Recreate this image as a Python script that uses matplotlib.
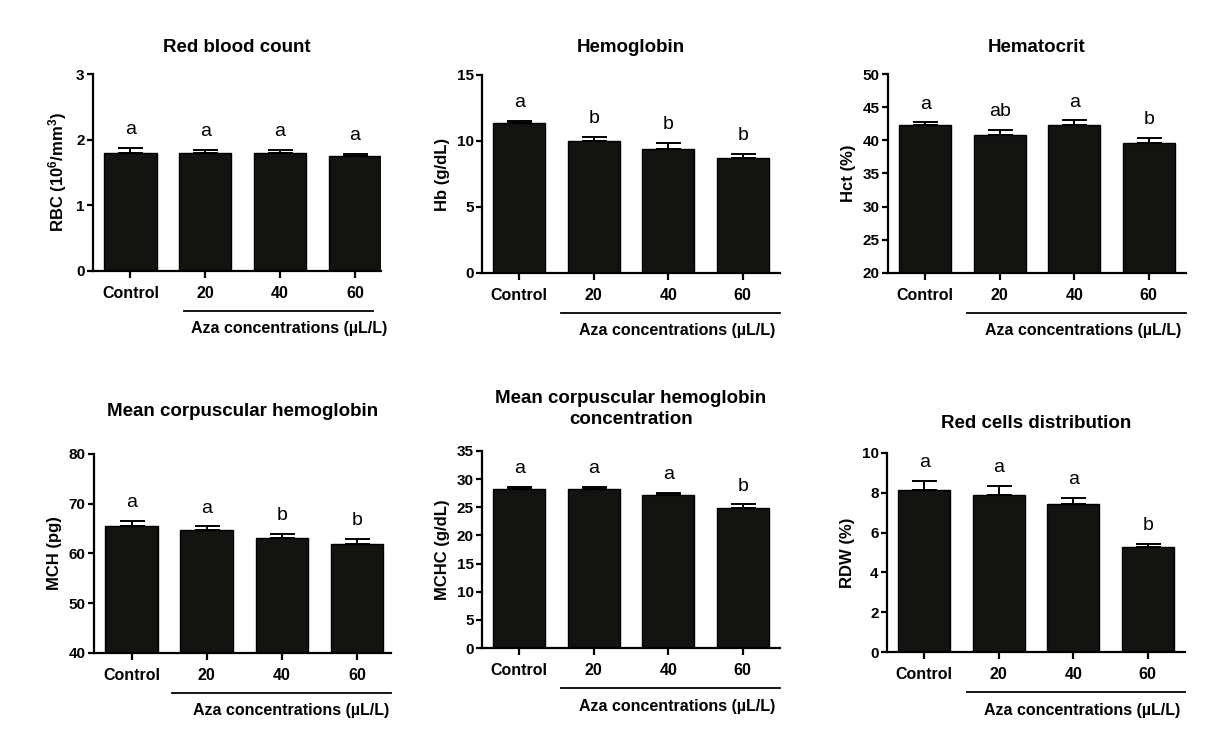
"""Hematological parameters of fish exposed to Aza - six bar panels."""

import matplotlib
matplotlib.use("Agg")
import matplotlib.pyplot as plt
import matplotlib.transforms as mtransforms

plt.rcParams["font.family"] = ["Liberation Sans", "DejaVu Sans"]
plt.rcParams["mathtext.fontset"] = "custom"
plt.rcParams["mathtext.rm"] = "Liberation Sans"
plt.rcParams["mathtext.bf"] = "Liberation Sans:bold"
plt.rcParams["mathtext.default"] = "bf"

GROUPS = ["Control", "20", "40", "60"]

rbc_mean = [1.79, 1.80, 1.80, 1.75]
rbc_sem = [0.09, 0.04, 0.05, 0.03]
rbc_letters = ["a", "a", "a", "a"]

hb_mean = [11.34, 10.02, 9.39, 8.73]
hb_sem = [0.16, 0.31, 0.46, 0.31]
hb_letters = ["a", "b", "b", "b"]

hct_mean = [42.24, 40.83, 42.34, 39.67]
hct_sem = [0.46, 0.75, 0.66, 0.70]
hct_letters = ["a", "ab", "a", "b"]

mch_mean = [65.57, 64.70, 63.15, 61.88]
mch_sem = [0.93, 0.74, 0.85, 1.07]
mch_letters = ["a", "a", "b", "b"]

mchc_mean = [28.16, 28.16, 27.20, 24.90]
mchc_sem = [0.47, 0.44, 0.40, 0.60]
mchc_letters = ["a", "a", "a", "b"]

rdw_mean = [8.16, 7.90, 7.45, 5.28]
rdw_sem = [0.43, 0.46, 0.29, 0.13]
rdw_letters = ["a", "a", "a", "b"]

W, H = 1212, 746
BAR_COLOR = "#12140f"

# panel layout in pixels: box = left, right, top, bottom
PANELS = [
    dict(mean=rbc_mean, sem=rbc_sem, letters=rbc_letters, title="Red blood count",
         ylabel="RBC (10$^6$/mm$^3$)", ylim=(0, 3), step=1,
         box=(93, 381, 74, 271), title_y=47, xr=3.35, line=(0.72, 3.24)),
    dict(mean=hb_mean, sem=hb_sem, letters=hb_letters, title="Hemoglobin",
         ylabel="Hb (g/dL)", ylim=(0, 15), step=5,
         box=(482, 780, 75, 273), title_y=47, xr=3.5, line=(0.56, 3.5)),
    dict(mean=hct_mean, sem=hct_sem, letters=hct_letters, title="Hematocrit",
         ylabel="Hct (%)", ylim=(20, 50), step=5,
         box=(888, 1186, 74, 273), title_y=47, xr=3.5, line=(0.56, 3.5)),
    dict(mean=mch_mean, sem=mch_sem, letters=mch_letters, title="Mean corpuscular hemoglobin",
         ylabel="MCH (pg)", ylim=(40, 80), step=10,
         box=(94, 391, 454, 653), title_y=412, xr=3.45, line=(0.54, 3.45)),
    dict(mean=mchc_mean, sem=mchc_sem, letters=mchc_letters,
         title="Mean corpuscular hemoglobin\nconcentration",
         ylabel="MCHC (g/dL)", ylim=(0, 35), step=5,
         box=(482, 780, 451, 648), title_y=409, xr=3.5, line=(0.56, 3.5)),
    dict(mean=rdw_mean, sem=rdw_sem, letters=rdw_letters, title="Red cells distribution",
         ylabel="RDW (%)", ylim=(0, 10), step=2,
         box=(887, 1185, 453, 652), title_y=423, xr=3.5, line=(0.57, 3.5)),
]


def draw_panel(fig, p):
    left, right, top, bottom = p["box"]
    ax = fig.add_axes([left / W, (H - bottom) / H, (right - left) / W, (bottom - top) / H])
    x = list(range(len(GROUPS)))
    lo = p["ylim"][0]
    ax.bar(x, [m - lo for m in p["mean"]], bottom=lo, width=0.7, color=BAR_COLOR,
           edgecolor="black", linewidth=1.0, zorder=2)
    ax.errorbar(x, p["mean"], yerr=[[0] * len(x), p["sem"]], fmt="none",
                ecolor="black", elinewidth=1.4, capsize=9, capthick=1.4, zorder=1)
    for xi, m, s, lab in zip(x, p["mean"], p["sem"], p["letters"]):
        ax.annotate(lab, (xi, m + s), xytext=(0, 10), textcoords="offset points",
                    ha="center", va="baseline", fontsize=14)

    ax.set_xlim(-0.5, p["xr"])
    ax.set_ylim(*p["ylim"])
    ax.set_yticks(range(p["ylim"][0], p["ylim"][1] + 1, p["step"]))
    ax.set_xticks(x)
    ax.set_xticklabels(GROUPS, fontsize=11.5, fontweight="bold")
    for t in ax.get_yticklabels():
        t.set_fontsize(11)
        t.set_fontweight("bold")
    ax.set_ylabel(p["ylabel"], fontsize=12, fontweight="bold", labelpad=5)
    for side in ("top", "right"):
        ax.spines[side].set_visible(False)
    for side in ("left", "bottom"):
        ax.spines[side].set_linewidth(1.6)
    ax.tick_params(axis="both", direction="out", width=1.6, length=4, pad=2)
    ax.tick_params(axis="x", length=5, pad=6)

    # concentration bracket under the treated groups
    trans = mtransforms.blended_transform_factory(ax.transData, ax.transAxes)
    hpx = bottom - top
    ax.plot(p["line"], [-40 / hpx, -40 / hpx], color="black", lw=1.3,
            transform=trans, clip_on=False)
    ax.text(2.12, -58 / hpx, "Aza concentrations (µL/L)", transform=trans,
            ha="center", va="center", fontsize=11.5, fontweight="bold")

    fig.text((left + right) / 2 / W, 1 - p["title_y"] / H, p["title"],
             ha="center", va="center", fontsize=13.5, fontweight="bold",
             linespacing=1.25)
    return ax


fig = plt.figure(figsize=(W / 100, H / 100), dpi=100)
for panel in PANELS:
    draw_panel(fig, panel)
fig.savefig("out.png", dpi=100)
